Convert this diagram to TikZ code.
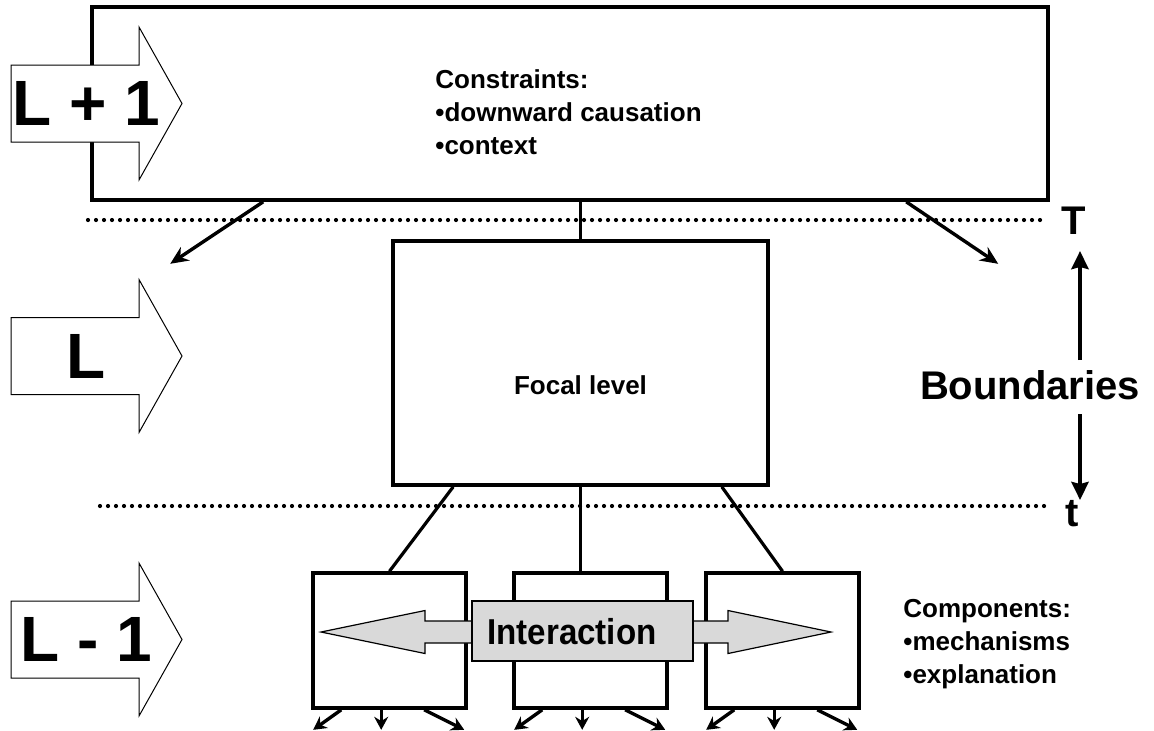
\documentclass[tikz,border=0pt]{standalone}
\usepackage{fontspec}
\setmainfont{Liberation Sans}
\usetikzlibrary{arrows.meta, positioning, calc}

\begin{document}
\begin{tikzpicture}[x=0.5pt, y=-0.5pt,
    box/.style={draw, line width=1.8pt, fill=white, inner sep=0pt},
    levelarrow/.style={draw, line width=0.5pt, fill=white},
    link/.style={line width=1.6pt},
    down/.style={line width=1.7pt, -{Stealth[length=9pt, width=8pt]}},
    smalldown/.style={line width=1.7pt, -{Stealth[length=6.5pt, width=7pt]}},
    bigarrow/.style={line width=2.3pt, -{Stealth[length=9pt, width=8.5pt, inset=1pt]}},
    bound/.style={line width=2.1pt, dash pattern=on 0pt off 4pt, line cap=round},
    txt/.style={font=\bfseries\fontsize{13}{16.5}\selectfont, inner sep=0pt, align=left},
    lvl/.style={font=\bfseries\fontsize{32}{36}\selectfont, inner sep=0pt},
    big/.style={font=\bfseries\fontsize{20}{24}\selectfont, inner sep=0pt},
    inter/.style={draw, line width=0.6pt, fill=black!15},
  ]

\useasboundingbox (0,0) rectangle (1154,730);

% level L+1
\node[box, minimum width=478pt, minimum height=96.5pt] (upper) at (570,103.5) {};
\node[txt, anchor=north west] (constr) at (435,69)
  {Constraints:\\\textbullet downward causation\\\textbullet context};

% level arrows on the left
\foreach \c/\txt/\nm in {103.5/{L + 1}/lup, 356/L/lmid, 639.5/{L - 1}/llow} {
  \draw[levelarrow] (11,\c-38.5) -- (139,\c-38.5) -- (139,\c-76.5) -- (182,\c)
    -- (139,\c+76.5) -- (139,\c+38.5) -- (11,\c+38.5) -- cycle;
  \node[lvl] (\nm) at (86,\c) {\txt};
}

% boundaries
\draw[bound] (88,220) -- (1047,220);
\draw[bound] (100,506) -- (1047,506);
\node[big] (Tlbl) at (1074,221) {T};
\node[big] (tlbl) at (1072,514) {t};
\node[big] (bnd) at (1030,385) {Boundaries};
\coordinate (upA) at (1080,360);
\coordinate (upB) at (1080,251);
\coordinate (dnA) at (1080,414);
\coordinate (dnB) at (1080,500);
\draw[bigarrow] (upA) -- (upB);
\draw[bigarrow] (dnA) -- (dnB);

% focal level
\node[box, minimum width=187.5pt, minimum height=122pt] (focal) at (580.5,363) {};
\node[txt] (focaltxt) at (580.5,385) {Focal level};

\draw[link] (focal.north |- upper.south) -- (focal.north);
\draw[down] ($(upper.south west)+(173,0)$) -- ++(-93,62) coordinate (ul);
\draw[down] ($(upper.south west)+(816,0)$) -- ++(92,62) coordinate (ur);

% level L-1
\node[box, minimum width=76.5pt, minimum height=67.5pt] (sub1) at (389.5,640.5) {};
\node[box, minimum width=76.5pt, minimum height=67.5pt] (sub2) at (590.5,640.5) {};
\node[box, minimum width=76.5pt, minimum height=67.5pt] (sub3) at (782.5,640.5) {};

\draw[link] ($(focal.south west)+(62,0)$) -- (sub1.north);
\draw[link] (focal.south) -- (focal.south |- sub2.north);
\draw[link] ($(focal.south east)+(-48,0)$) -- (sub3.north);

\foreach \b in {sub1,sub2,sub3} {
  \draw[smalldown] ($(\b.south west)+(30,0)$) -- ++(-28,20) coordinate (\b-l);
  \draw[smalldown] ($(\b.south west)+(70,0)$) -- ++(0,20) coordinate (\b-m);
  \draw[smalldown] ($(\b.south west)+(113,0)$) -- ++(40,20) coordinate (\b-r);
}

% interaction
\draw[inter] (321,632) -- (425,610.5) -- (425,621) -- (728,621) -- (728,610.5)
  -- (831,632) -- (728,653.5) -- (728,643) -- (425,643) -- (425,653.5) -- cycle;
\node[inter, minimum width=110.5pt, minimum height=30pt, inner sep=0pt] (interbox) at (582.5,631) {};
\node[font=\bfseries\fontsize{18}{20}\selectfont, inner sep=0pt] (intertxt) at (572,632)
  {\scalebox{0.92}[1]{Interaction}};

\node[txt, anchor=north west] (comp) at (903,599)
  {Components:\\\textbullet mechanisms\\\textbullet explanation};

\end{tikzpicture}
\end{document}
